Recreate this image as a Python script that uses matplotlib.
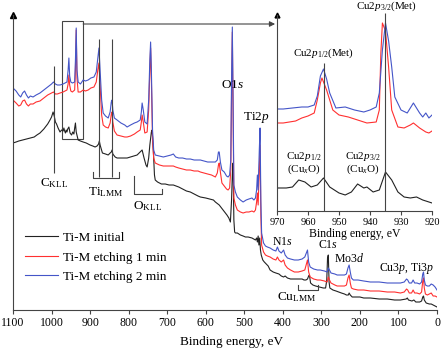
import matplotlib
matplotlib.use("Agg")
import matplotlib.pyplot as plt
from matplotlib.patches import Rectangle
import numpy as np

plt.rcParams['font.family'] = ['Liberation Serif', 'DejaVu Serif']
plt.rcParams['mathtext.fontset'] = 'custom'
plt.rcParams['mathtext.rm'] = 'Liberation Serif'
plt.rcParams['mathtext.it'] = 'Liberation Serif:italic'

# ---- survey spectra (binding energy, eV / intensity, arb. units) ----
energy_blue = [1100, 1092, 1085, 1080, 1075, 1070, 1065, 1060, 1055, 1048, 1040, 1030, 1020, 1010, 1000, 995,
               990, 985, 978, 970, 965, 960, 957, 955, 953, 950, 946, 940, 938, 936, 934, 931, 925, 918, 912,
               905, 898, 890, 884, 880, 877, 874, 870, 866, 860, 853, 848, 845, 843, 841, 837, 830, 820, 810,
               804, 795, 785, 778, 770, 767, 765, 762, 758, 752, 748, 745, 743, 741, 738, 735, 731, 720, 710,
               700, 690, 684, 678, 670, 660, 650, 640, 630, 620, 614, 605, 595, 585, 575, 570, 567, 565, 562,
               558, 552, 546, 542, 538, 535, 533, 531, 529, 527, 523, 518, 510, 503, 495, 488, 480, 475, 471,
               468, 466, 464, 461, 459, 457, 455, 450, 445, 440, 433, 425, 418, 414, 410, 404, 398, 394, 388,
               380, 370, 360, 350, 343, 338, 336, 333, 329, 320, 310, 303, 292, 285, 282, 279, 275, 265, 259,
               250, 240, 235, 231, 228, 225, 222, 217, 205, 190, 173, 150, 129, 110, 95, 85, 79, 76, 72, 66,
               62, 58, 52, 45, 40, 37, 35, 33, 30, 25, 20, 15, 10, 5, 0]
int_blue = [222, 219, 215, 213, 217, 219, 215, 212, 214, 213, 215, 217, 220, 223, 226, 228,
            226, 225, 225, 226, 227, 228, 240, 252, 234, 228, 227, 228, 250, 282, 240, 228, 226, 230, 229,
            230, 232, 233, 238, 252, 262, 240, 210, 197, 194, 192, 198, 208, 210, 200, 192, 190, 187, 185,
            183, 185, 187, 188, 190, 198, 207, 200, 188, 186, 210, 250, 268, 240, 180, 160, 155, 154, 153,
            154, 155, 156, 153, 152, 152, 151, 151, 150, 150, 150, 149, 148, 148, 148, 150, 158, 158, 148,
            140, 138, 134, 133, 135, 150, 230, 283, 210, 125, 118, 113, 110, 108, 110, 111, 112, 110, 112,
            120, 135, 120, 160, 182, 110, 77, 67, 64, 63, 62, 60, 59, 63, 59, 57, 60, 55, 52,
            51, 50, 50, 51, 53, 58, 60, 48, 43, 41, 40, 40, 39, 38, 42, 40, 37, 36, 35,
            35, 35, 36, 42, 45, 38, 32, 30, 30, 29, 28, 28, 27, 27, 27, 28, 31, 30, 27, 27,
            30, 27, 27, 26, 28, 36, 38, 30, 25, 24, 24, 26, 25, 23, 20]

energy_red = energy_blue
int_red = [210, 207, 204, 205, 209, 210, 206, 204, 206, 206, 208, 209, 212, 215, 217, 218,
           216, 216, 217, 218, 219, 220, 226, 235, 225, 219, 218, 220, 240, 280, 232, 218, 218, 220, 219,
           220, 222, 223, 228, 240, 247, 225, 195, 185, 183, 182, 187, 196, 198, 188, 179, 175, 174, 173,
           173, 174, 176, 178, 180, 188, 195, 188, 177, 178, 200, 240, 262, 230, 170, 152, 147, 145, 144,
           144, 144, 144, 143, 142, 141, 140, 140, 139, 139, 138, 137, 136, 135, 133, 137, 145, 147, 138,
           127, 124, 121, 120, 122, 140, 215, 278, 190, 112, 105, 100, 98, 97, 98, 98, 99, 98, 100,
           108, 117, 105, 140, 165, 95, 65, 58, 55, 54, 53, 51, 50, 53, 50, 48, 50, 45, 42,
           40, 38, 38, 39, 40, 47, 50, 38, 33, 31, 30, 30, 29, 28, 33, 30, 27, 25, 24,
           24, 24, 25, 32, 35, 27, 22, 21, 20, 20, 19, 19, 18, 18, 17, 18, 21, 20, 17, 17,
           20, 17, 17, 16, 18, 29, 32, 22, 16, 15, 16, 17, 14, 14, 13]

energy_black = [1100, 1092, 1085, 1075, 1065, 1056, 1045, 1038, 1030, 1020, 1010, 1004, 1000, 996, 993, 990,
                987, 983, 978, 974, 970, 968, 966, 964, 962, 960, 958, 955, 952, 948, 945, 942, 940, 938,
                936, 931, 925, 918, 910, 900, 893, 887, 882, 878, 876, 874, 868, 860, 853, 848, 845, 843,
                841, 835, 830, 820, 810, 804, 795, 785, 778, 770, 765, 760, 755, 752, 748, 745, 741, 739,
                736, 733, 731, 725, 715, 705, 695, 684, 670, 660, 650, 640, 630, 620, 614, 600, 590, 580,
                575, 565, 555, 549, 545, 540, 536, 533, 531, 529, 527, 525, 523, 518, 510, 503, 497, 490,
                480, 471, 468, 466, 464, 462, 460, 458, 456, 452, 448, 443, 438, 433, 425, 418, 410, 404,
                398, 394, 388, 380, 370, 360, 350, 345, 340, 336, 333, 331, 328, 322, 315, 305, 295, 289,
                286, 284, 282, 280, 278, 270, 262, 255, 248, 240, 235, 230, 228, 225, 220, 210, 200, 190,
                173, 150, 129, 110, 95, 80, 77, 74, 65, 60, 55, 45, 40, 37, 35, 33, 28, 20, 15, 10, 5, 0]
int_black = [167, 168, 169, 170, 171, 172, 173, 175, 177, 181, 186, 190, 193, 198, 194, 188,
             186, 182, 178, 180, 179, 182, 179, 177, 180, 178, 181, 183, 177, 175, 178, 176, 182, 187,
             178, 170, 169, 168, 167, 165, 164, 163, 164, 166, 169, 165, 157, 156, 155, 157, 158, 160,
             156, 153, 152, 152, 152, 152, 153, 154, 155, 158, 160, 152, 145, 143, 152, 165, 178, 180,
             160, 135, 130, 128, 126, 126, 125, 125, 123, 121, 119, 118, 116, 114, 113, 112, 111, 110,
             108, 105, 100, 97, 95, 92, 88, 110, 135, 147, 90, 78, 77, 77, 75, 74, 73, 73,
             72, 70, 72, 68, 74, 65, 72, 60, 55, 50, 48, 46, 44, 40, 38, 37, 36, 34,
             33, 34, 32, 31, 31, 31, 31, 30, 30, 31, 34, 35, 27, 25, 24, 23, 22, 22,
             30, 52, 55, 28, 22, 20, 19, 18, 17, 16, 15, 15, 17, 15, 13, 13, 13, 12,
             12, 11, 11, 10, 10, 11, 12, 10, 9, 10, 8, 8, 9, 13, 14, 10, 7, 6, 6, 5, 4, 3]

# ---- Cu2p detail (inset) ----
cu_energy_blue = [970, 968, 965, 962, 960, 958, 957, 956, 955, 954, 953, 951, 948, 945, 942, 940, 938, 937,
                  936, 935, 934, 933, 932, 930, 928, 926, 924, 923, 922, 921, 920]
cu_blue = [102, 102, 103, 104, 104, 106, 115, 135, 142, 132, 118, 103, 104, 101, 99, 101, 104, 118,
           161, 188, 170, 144, 114, 101, 98, 108, 98, 94, 98, 93, 96]
cu_energy_red = [970, 968, 966, 964, 962, 960, 958, 957, 956, 955.5, 954, 952, 950, 947, 944, 941, 938, 937,
                 936.5, 936, 935, 934, 933, 931, 929, 927, 926, 924, 922, 921, 920]
cu_red = [88, 88, 89, 90, 93, 95, 98, 111, 128, 133, 121, 101, 96, 94, 91, 88, 89, 101,
          158, 188, 180, 144, 101, 84, 83, 86, 88, 83, 79, 78, 80]
cu_energy_black = [970, 967, 965, 963, 961, 959, 957, 955, 953, 950, 948, 946, 944, 942, 941, 939, 937, 935,
                   933, 931, 929, 927, 925, 923, 921, 920]
cu_black = [23, 23, 24, 31, 29, 24, 26, 33, 24, 18, 16, 19, 27, 23, 24, 19, 21, 39,
            31, 19, 14, 13, 14, 11, 9, 8]

labels = ["Ti-M initial", "Ti-M etching 1 min", "Ti-M etching 2 min"]
colors = ["#222222", "#ff3030", "#4455c8"]
gray = "#444444"

fig = plt.figure(figsize=(4.42, 3.53), dpi=100)
ax = fig.add_axes([0.0294, 0.1218, 0.9593, 0.8357])

ax.plot(energy_black, int_black, color=colors[0], lw=0.8, label=labels[0])
ax.plot(energy_red, int_red, color=colors[1], lw=0.8, label=labels[1])
ax.plot(energy_blue, int_blue, color=colors[2], lw=0.8, label=labels[2])

ax.set_xlim(1100, 0)
ax.set_ylim(0, 295)
ax.set_xticks(np.arange(1100, -1, -100))
ax.set_yticks([])
ax.tick_params(axis='x', direction='out', length=3, width=0.8, labelsize=8.5, pad=2, color=gray)
ax.spines['top'].set_visible(False)
ax.spines['right'].set_visible(False)
for s in ['left', 'bottom']:
    ax.spines[s].set_color(gray)
    ax.spines[s].set_linewidth(0.8)
ax.plot(1100, 295, marker='^', color='black', ms=4, clip_on=False)
ax.set_xlabel("Binding energy, eV", fontsize=9.5)
ax.xaxis.set_label_coords(0.515, -0.087)

# peak labels
fs = 9.5
ax.vlines(993, 137, 244, color=gray, lw=0.8)
ax.text(993, 127, r'C$_{\mathrm{KLL}}$', fontsize=fs, ha='center', va='center')
ax.vlines([877, 842], 133, 271, color=gray, lw=0.8)
ax.plot([892, 892, 825, 825], [138, 132, 132, 138], color=gray, lw=0.8)
ax.text(859, 118, r'Ti$_{\mathrm{LMM}}$', fontsize=fs, ha='center', va='center')
ax.plot([786, 786, 713, 713], [134, 116, 116, 121], color=gray, lw=0.8)
ax.text(752, 104, r'O$_{\mathrm{KLL}}$', fontsize=fs, ha='center', va='center')
ax.text(531, 225, r'O1$s$', fontsize=fs, ha='center', va='center')
ax.text(470, 193, r'Ti2$p$', fontsize=fs, ha='center', va='center')
ax.text(402, 68, r'N1$s$', fontsize=8.5, ha='center', va='center')
ax.text(283, 65, r'C1$s$', fontsize=8.5, ha='center', va='center')
ax.text(228, 52, r'Mo3$d$', fontsize=8.5, ha='center', va='center')
ax.text(80, 42, r'Cu3$p$, Ti3$p$', fontsize=8.5, ha='center', va='center')
ax.plot([361, 361, 309, 309], [25, 20, 20, 25], color=gray, lw=0.8)
ax.text(363, 13, r'Cu$_{\mathrm{LMM}}$', fontsize=fs, ha='center', va='center')

# zoom box and connector
ax.add_patch(Rectangle((918, 171), 55, 118, fill=False, ec=gray, lw=0.8))
ax.annotate('', xy=(420, 286), xytext=(918, 286),
            arrowprops=dict(arrowstyle='-|>', color=gray, lw=0.8, mutation_scale=8,
                            shrinkA=0, shrinkB=0))

ax.legend(loc='upper left', bbox_to_anchor=(0.028, 0.265), frameon=False, fontsize=9.5,
          handlelength=2.5, handletextpad=0.4, labelspacing=0.55, borderpad=0, borderaxespad=0)

# ---- inset ----
ins = fig.add_axes([0.6267, 0.4023, 0.3507, 0.5552])
ins.set_facecolor('white')
ins.plot(cu_energy_black, cu_black, color=colors[0], lw=0.8)
ins.plot(cu_energy_red, cu_red, color=colors[1], lw=0.8)
ins.plot(cu_energy_blue, cu_blue, color=colors[2], lw=0.8)
ins.set_xlim(970, 920)
ins.set_ylim(0, 196)
ins.set_xticks(np.arange(970, 919, -10))
ins.set_yticks([])
ins.tick_params(axis='x', direction='out', length=3, width=0.8, labelsize=7.5, pad=2, color=gray)
ins.spines['top'].set_visible(False)
ins.spines['right'].set_visible(False)
for s in ['left', 'bottom']:
    ins.spines[s].set_color(gray)
    ins.spines[s].set_linewidth(0.8)
ins.plot(970, 196, marker='^', color='black', ms=3.5, clip_on=False)
ins.set_xlabel("Binding energy, eV", fontsize=8.5, labelpad=1)
ins.vlines(954.9, 0, 148, color=gray, lw=0.8)
ins.vlines(935.2, 0, 198, color=gray, lw=0.8, clip_on=False)
ins.text(934.8, 205, r'Cu2$p_{3/2}$(Met)', fontsize=8, ha='center', va='center')
ins.text(954.9, 158, r'Cu2$p_{1/2}$(Met)', fontsize=8, ha='center', va='center')
ins.text(961.3, 48, 'Cu2$p_{1/2}$\n(Cu$_x$O)', fontsize=8, ha='center', va='center', linespacing=1.0)
ins.text(942.3, 48, 'Cu2$p_{3/2}$\n(Cu$_x$O)', fontsize=8, ha='center', va='center', linespacing=1.0)

fig.savefig("out.png", dpi=100)
